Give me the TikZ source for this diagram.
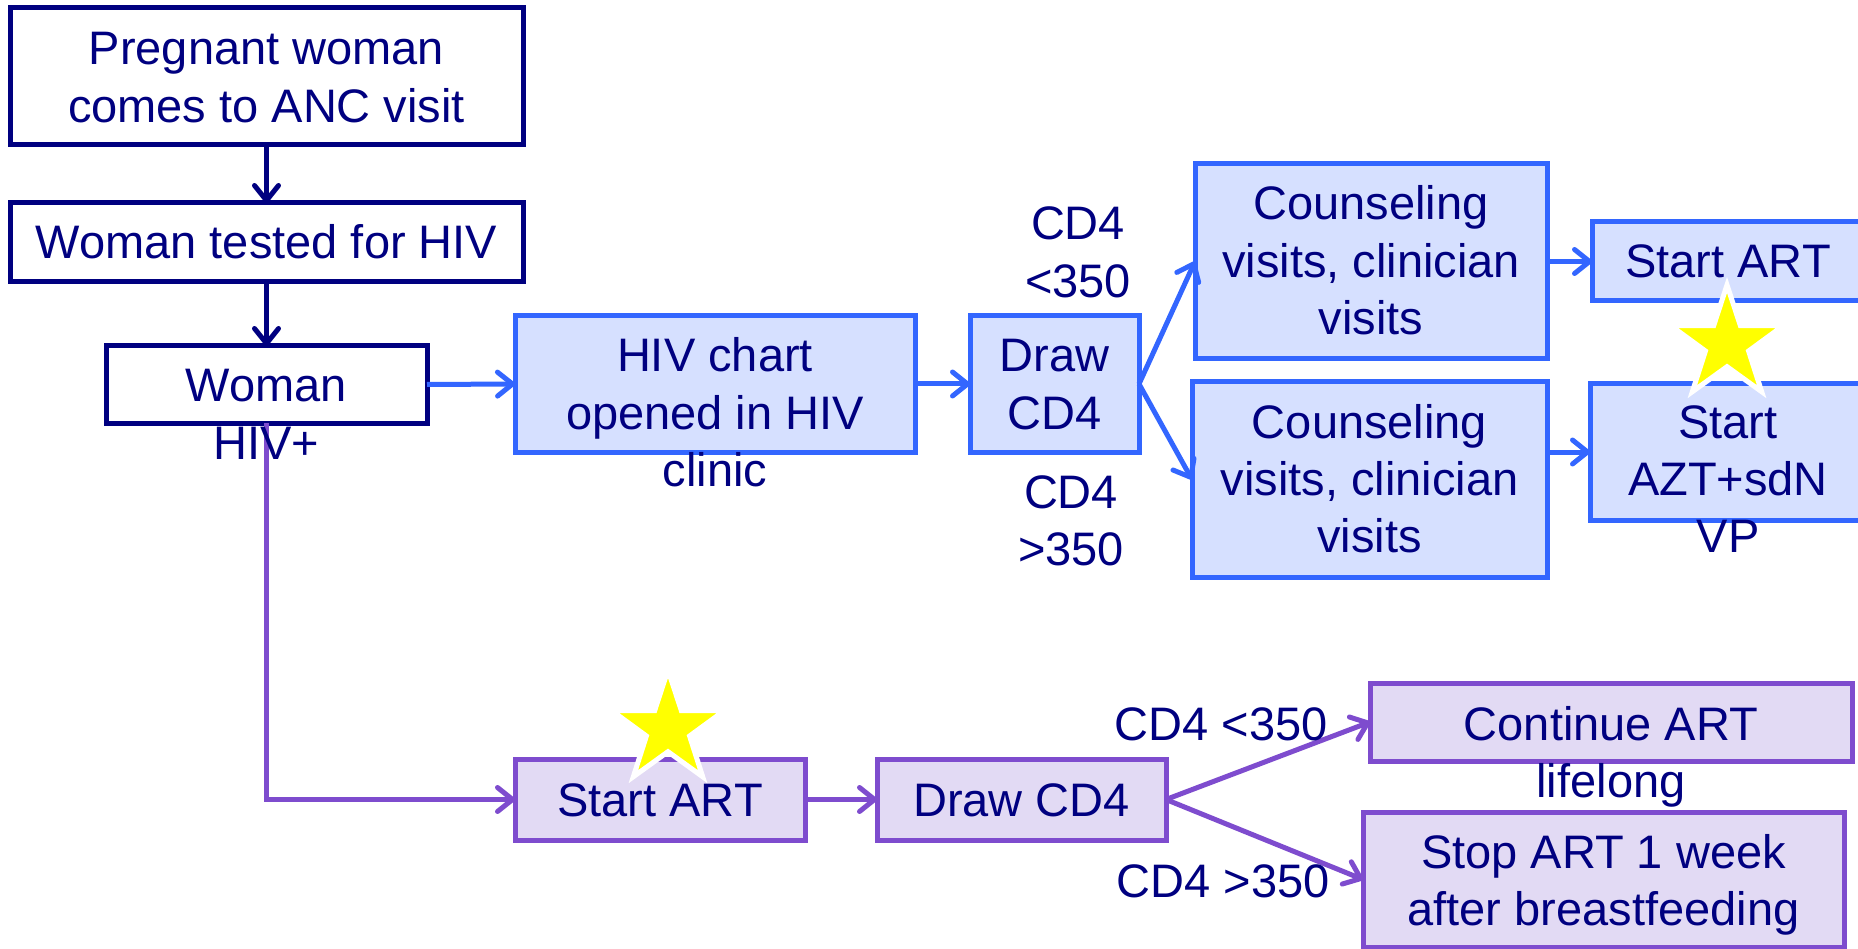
\documentclass[tikz,border=0pt]{standalone}
\usepackage{fontspec}
\setmainfont{Liberation Sans}
\usetikzlibrary{arrows.meta,shapes.geometric}
\definecolor{navy}{RGB}{0,0,128}
\definecolor{blueline}{RGB}{51,102,255}
\definecolor{bluefill}{RGB}{214,224,255}
\definecolor{purpline}{RGB}{126,76,206}
\definecolor{purpfill}{RGB}{226,218,244}
\definecolor{staryellow}{RGB}{255,255,0}
\newcommand{\ml}[1]{\begin{tabular}[t]{@{}c@{}}#1\end{tabular}}
\begin{document}
\begin{tikzpicture}[x=1pt,y=-1pt,
  box/.style={rectangle, inner sep=0pt, outer sep=0pt, line width=5pt},
  navybox/.style={box, draw=navy, fill=white},
  bluebox/.style={box, draw=blueline, fill=bluefill},
  purpbox/.style={box, draw=purpline, fill=purpfill},
  txt/.style={anchor=base, inner sep=0pt, outer sep=0pt, text=navy, font=\fontsize{47}{57.5}\selectfont},
  arr/.style={line width=5pt, -{Straight Barb[length=15pt,width=24pt,round]}},
  navyarr/.style={arr, draw=navy},
  bluearr/.style={arr, draw=blueline},
  purparr/.style={arr, draw=purpline},
  starmark/.style={star, star points=5, star point ratio=2.6, minimum size=118pt, inner sep=0pt, fill=staryellow, draw=white, line width=5pt}
]
\useasboundingbox (0,0) rectangle (1858,949);
% boxes
\node[navybox, minimum width=513pt, minimum height=137pt] (anc) at (266.5,76.5) {};
\node[navybox, minimum width=513pt, minimum height=79pt] (test) at (266.5,242.5) {};
\node[navybox, minimum width=321pt, minimum height=77pt] (pos) at (266.5,384.5) {};
\node[bluebox, minimum width=400pt, minimum height=136pt] (chart) at (715,384) {};
\node[bluebox, minimum width=169pt, minimum height=136pt] (draw1) at (1054.5,384) {};
\node[bluebox, minimum width=352pt, minimum height=195pt] (couns1) at (1371,261.5) {};
\node[bluebox, minimum width=355pt, minimum height=195pt] (couns2) at (1369.5,479.5) {};
\node[bluebox, minimum width=272pt, minimum height=79pt] (art1) at (1728,261.5) {};
\node[bluebox, minimum width=276pt, minimum height=137pt] (azt) at (1728,452) {};
\node[purpbox, minimum width=290pt, minimum height=81pt] (art2) at (660,799.5) {};
\node[purpbox, minimum width=289pt, minimum height=81pt] (draw2) at (1021.5,799.5) {};
\node[purpbox, minimum width=482pt, minimum height=78pt] (cont) at (1611,722) {};
\node[purpbox, minimum width=481pt, minimum height=135pt] (stop) at (1603.5,879.5) {};
% connectors
\draw[navyarr] (anc) -- (test);
\draw[navyarr] (test) -- (pos);
\draw[bluearr] (pos.east) -- (chart.west);
\draw[bluearr] (chart.east) -- (draw1.west);
\draw[bluearr] (draw1.east) -- (couns1.west);
\draw[bluearr] (draw1.east) -- (couns2.west);
\draw[bluearr] (couns1.east) -- (art1.west);
\draw[bluearr] (azt.west -| couns2.east) -- (azt.west);
\draw[purparr] (pos.south) |- (art2.west);
\draw[purparr] (art2.east) -- (draw2.west);
\draw[purparr] (draw2.east) -- (cont.west);
\draw[purparr] (draw2.east) -- (stop.west);
% texts
\node[txt] (t-anc) at (266.5,65) {\ml{Pregnant woman\\comes to ANC visit}};
\node[txt] (t-test) at (266.5,259) {Woman tested for HIV};
\node[txt] (t-pos) at (266.5,402) {\ml{Woman\\HIV+}};
\node[txt] (t-chart) at (715,372) {\ml{HIV chart\\opened in HIV\\clinic}};
\node[txt] (t-draw1) at (1054.5,372) {\ml{Draw\\CD4}};
\node[txt] (t-couns1) at (1371,220) {\ml{Counseling\\visits, clinician\\visits}};
\node[txt] (t-couns2) at (1369.5,438) {\ml{Counseling\\visits, clinician\\visits}};
\node[txt] (t-art1) at (1728,278) {Start ART};
\node[txt] (t-azt) at (1728,438) {\ml{Start\\AZT+sdN\\VP}};
\node[txt] (t-art2) at (660,816) {Start ART};
\node[txt] (t-draw2) at (1021.5,816) {Draw CD4};
\node[txt] (t-cont) at (1611,740) {\ml{Continue ART\\lifelong}};
\node[txt] (t-stop) at (1603.5,868) {\ml{Stop ART 1 week\\after breastfeeding}};
\node[txt] (l-lo1) at (1078,240) {\ml{CD4\\<350}};
\node[txt] (l-hi1) at (1071,508) {\ml{CD4\\>350}};
\node[txt] (l-lo2) at (1221,740) {CD4 <350};
\node[txt] (l-hi2) at (1223,897) {CD4 >350};
% stars
\node[starmark] (star1) at (1727,344) {};
\node[starmark] (star2) at (668,729) {};
\end{tikzpicture}
\end{document}
